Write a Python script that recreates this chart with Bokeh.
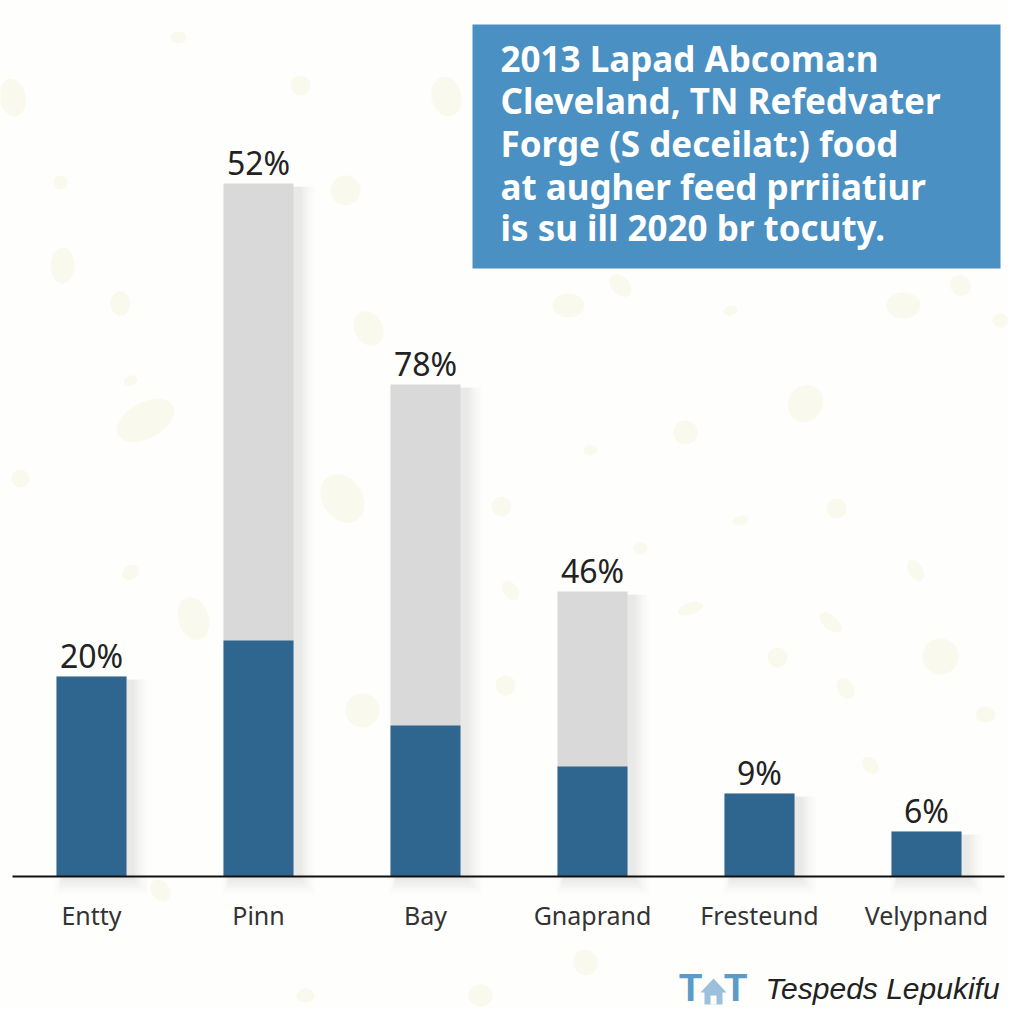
from bokeh.plotting import figure
from bokeh.models import Range1d, FixedTicker
from bokeh.core.properties import value
from bokeh.embed import file_html
from bokeh.resources import INLINE
import numpy as np

categories = ["Entty", "Pinn", "Bay", "Gnaprand", "Fresteund", "Velypnand"]
x_pos = [0, 1, 2, 3, 4, 5]
dark_vals = [20.0, 23.6, 15.1, 11.0, 8.3, 4.5]
total_vals = [20.0, 69.3, 49.2, 28.5, 8.3, 4.5]
labels = ["20%", "52%", "78%", "46%", "9%", "6%"]
title_lines = ["2013 Lapad Abcoma:n", "Cleveland, TN Refedvater", "Forge (S deceilat:) food",
               "at augher feed prriiatiur", "is su ill 2020 br tocuty."]
brand = "Tespeds Lepukifu"

# decorative background flecks (reference pixels: x, y, w, h, angle)
fl_x = [12,62,120,345,446,368,145,342,193,362,805,903,568,940,685,836,777,501,300,178,130,60,250,
        505,620,730,960,1000,690,845,510,640,915,20,130,830,585,480,305,985,740,160,420,870,590]
fl_y = [97,265,303,190,96,328,420,498,618,710,403,305,305,656,432,508,657,506,85,37,572,182,470,
        685,285,310,285,320,608,688,590,548,570,478,380,622,962,995,995,714,520,890,530,765,450]
fl_w = [26,24,20,30,30,28,62,40,30,34,34,34,32,36,24,20,20,20,20,16,18,14,14,
        20,18,14,20,16,26,16,14,14,14,18,14,26,24,24,18,20,16,18,14,14,14]
fl_h = [38,36,24,30,40,36,36,52,44,34,38,26,24,36,24,20,20,20,20,12,14,14,12,
        20,26,10,22,14,12,22,22,12,24,18,10,14,26,22,14,16,10,24,10,20,10]
fl_a = [0.2,0,0,0,0.2,0.5,0.5,0.6,0.3,0,-0.6,0,0,0,0,0,0,0,0,0,0.5,0,0.5,
        0,0.7,0.3,0.8,0,0.3,0.5,0.6,0,0.5,0,0.4,-0.7,0.5,0,0,0,0.3,0.6,0,0.8,0]

DARK, GREY, BLUE = "#2e668f", "#d9d9d9", "#4a90c2"
BG = "#fefefc"

p = figure(width=1008, height=1008, output_backend="svg", toolbar_location=None,
           x_range=Range1d((0 - 91) / 167, (1008 - 91) / 167),
           y_range=Range1d((876 - 1008) / 10, (876 - 0) / 10),
           min_border=0, outline_line_color=None, background_fill_color=BG,
           border_fill_color=BG)
p.extra_x_ranges["page"] = Range1d(0, 1008)
p.extra_y_ranges["page"] = Range1d(1008, 0)
p.grid.visible = False
p.yaxis.visible = False

pg = dict(x_range_name="page", y_range_name="page")
p.ellipse(fl_x, fl_y, width=fl_w, height=fl_h, angle=fl_a, fill_color="#f7f9e8", fill_alpha=0.8,
          line_color=None, **pg)

x = np.array(x_pos, dtype=float)
tot = np.array(total_vals)
# soft shadow: stacked translucent bars, wider towards the outside
for dx, w, a, b in [(0.06, 0.56, 0.008, -1.8), (0.06, 0.53, 0.010, -1.5), (0.055, 0.50, 0.012, -1.2),
                    (0.05, 0.48, 0.014, -1.0), (0.045, 0.46, 0.016, -0.7), (0.04, 0.44, 0.018, -0.4)]:
    p.vbar(x=x + dx, top=tot - 0.3, bottom=b, width=w, fill_color="#000000", fill_alpha=a, line_color=None)

bw = 70 / 167
p.vbar(x=x_pos, top=total_vals, bottom=0, width=bw, fill_color=GREY, line_color=None)
p.vbar(x=x_pos, top=dark_vals, bottom=0, width=bw, fill_color=DARK, line_color=None)
p.text(x=x_pos, y=total_vals, text=labels, text_align="center", text_baseline="bottom", y_offset=0,
       text_font=value("Noto Sans"), text_font_size="32px", text_color="#222222")

ax = p.xaxis[0]
ax.fixed_location = 0
ax.bounds = ((12 - 91) / 167, (1004 - 91) / 167)
ax.ticker = FixedTicker(ticks=x_pos)
ax.major_label_overrides = dict(zip(x_pos, categories))
ax.major_tick_line_color = None
ax.minor_tick_line_color = None
ax.axis_line_color = "#111111"
ax.axis_line_width = 2
ax.major_label_standoff = 15
ax.major_label_text_font = "Noto Sans"
ax.major_label_text_font_size = "25px"
ax.major_label_text_color = "#333333"

# title box
p.quad(left=[472], right=[1000], top=[24], bottom=[268], fill_color=BLUE, line_color=None, **pg)
p.text(x=[500] * 5, y=[58, 100, 143, 186, 227], text=title_lines, text_baseline="middle",
       text_font=value("Noto Sans"), text_font_style="bold", text_font_size="35px",
       text_color="#ffffff", **pg)

# logo
p.text(x=[690, 735], y=[987, 987], text=["T", "T"], text_align="center", text_baseline="middle",
       text_font=value("Liberation Sans"), text_font_style="bold", text_font_size="38px", text_color="#5b9bc8", **pg)
p.patch([713, 726, 722, 722, 704, 704, 700], [978, 992, 992, 1004, 1004, 992, 992], fill_color="#9cc0dc",
        line_color=None, **pg)
p.quad(left=[710], right=[716], top=[995], bottom=[1004], fill_color=BG, line_color=None, **pg)
p.text(x=[765], y=[988], text=[brand], text_baseline="middle", text_font=value("Liberation Sans"),
       text_font_style="italic", text_font_size="30px", text_color="#222222", **pg)

open("out.html", "w").write(file_html(p, INLINE))
